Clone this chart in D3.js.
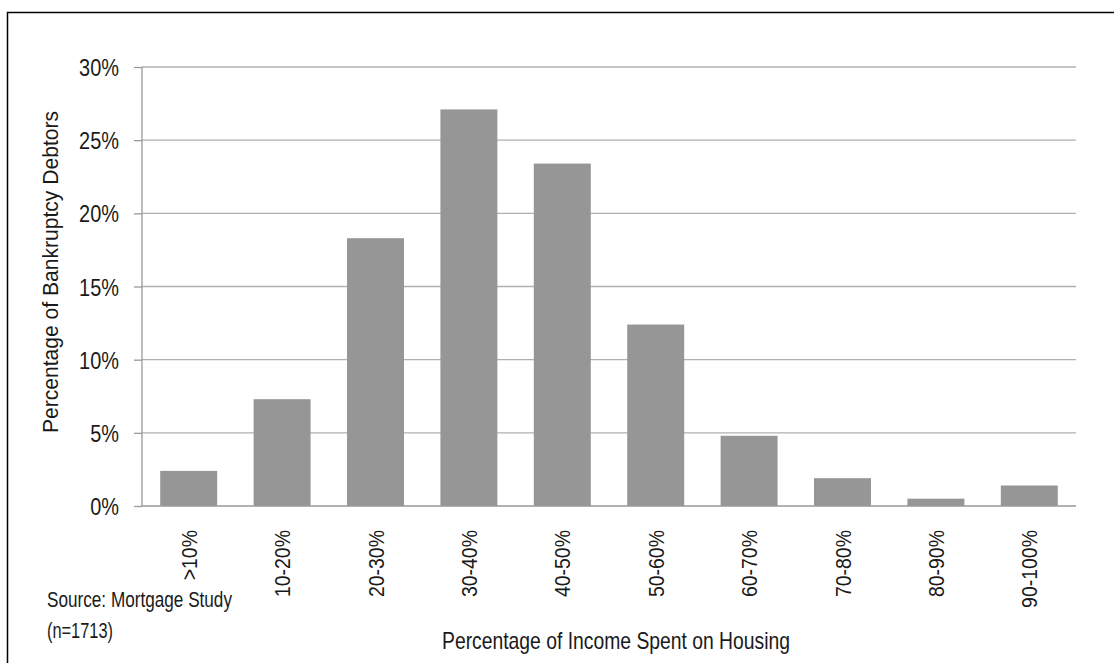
<!DOCTYPE html>
<html>
<head>
<meta charset="utf-8">
<script src="https://cdn.jsdelivr.net/npm/d3@7"></script>
<style>
body { margin: 0; background: #fff; }
text { font-family: "Liberation Sans", Arial, sans-serif; fill: #1a1a1a; }
</style>
</head>
<body>
<div id="chartdiv"></div>
<script>
var categories = [">10%", "10-20%", "20-30%", "30-40%", "40-50%", "50-60%", "60-70%", "70-80%", "80-90%", "90-100%"];
var values = [2.4, 7.3, 18.3, 27.1, 23.4, 12.4, 4.8, 1.9, 0.5, 1.4];
var yTicks = [0, 5, 10, 15, 20, 25, 30];

var W = 1114, H = 663;
var plotLeft = 142, plotRight = 1076, plotTop = 67, plotBottom = 506;

// squeeze text horizontally, the original uses a narrow face
function narrow(sel, k) {
    sel.each(function() {
        var len = this.getComputedTextLength();
        d3.select(this).attr("textLength", len * k).attr("lengthAdjust", "spacingAndGlyphs");
    });
}

function init() {
    var svg = d3.select("#chartdiv").append("svg").attr("width", W).attr("height", H);

    // frame, runs off the right and bottom edges
    svg.append("rect").attr("x", 7.5).attr("y", 12.5).attr("width", W + 20).attr("height", H + 20)
        .attr("fill", "none").attr("stroke", "#000").attr("stroke-width", 1.5);

    var x = d3.scaleBand().domain(categories).range([plotLeft, plotRight]).paddingInner(0.39).paddingOuter(0.195);
    var y = d3.scaleLinear().domain([0, 30]).range([plotBottom, plotTop]);

    // gridlines
    svg.append("g").selectAll("line").data(yTicks.filter(function(d){ return d > 0; })).enter().append("line")
        .attr("x1", plotLeft).attr("x2", plotRight)
        .attr("y1", function(d){ return y(d); }).attr("y2", function(d){ return y(d); })
        .attr("stroke", "#b0b0b0").attr("stroke-width", 1.3);

    // y axis
    var yAxis = d3.axisLeft(y).tickValues(yTicks).tickSize(8).tickPadding(15).tickFormat(function(d){ return d + "%"; });
    var gy = svg.append("g").attr("transform", "translate(" + plotLeft + ",0)").call(yAxis);
    gy.select(".domain").attr("stroke", "#999").attr("stroke-width", 1.3).attr("d", "M0," + plotTop + "V" + plotBottom);
    gy.selectAll(".tick line").attr("stroke", "#999").attr("stroke-width", 1.3);
    gy.selectAll(".tick text").attr("font-size", 24).attr("fill", "#1a1a1a").attr("dy", "0.36em")
        .style("font-family", "'Liberation Sans', Arial, sans-serif");
    narrow(gy.selectAll(".tick text"), 0.83);

    // bars
    svg.append("g").selectAll("rect").data(values).enter().append("rect")
        .attr("x", function(d, i){ return x(categories[i]); })
        .attr("width", x.bandwidth())
        .attr("y", function(d){ return y(d); })
        .attr("height", function(d){ return y(0) - y(d); })
        .attr("fill", "#969696");

    // baseline
    svg.append("line").attr("x1", plotLeft).attr("x2", plotRight).attr("y1", plotBottom).attr("y2", plotBottom)
        .attr("stroke", "#999").attr("stroke-width", 1.3);

    // category labels, rotated
    var cat = svg.append("g").selectAll("text").data(categories).enter().append("text")
        .attr("transform", function(d){ return "translate(" + (x(d) + x.bandwidth() / 2 + 8) + ",530) rotate(-90)"; })
        .attr("text-anchor", "end").attr("font-size", 22)
        .text(function(d){ return d; });
    narrow(cat, 0.885);

    // axis titles
    svg.append("text").attr("transform", "translate(58,272) rotate(-90)")
        .attr("text-anchor", "middle").attr("font-size", 22)
        .attr("textLength", 322).attr("lengthAdjust", "spacingAndGlyphs")
        .text("Percentage of Bankruptcy Debtors");
    svg.append("text").attr("x", 616).attr("y", 649).attr("text-anchor", "middle").attr("font-size", 24)
        .attr("textLength", 348).attr("lengthAdjust", "spacingAndGlyphs")
        .text("Percentage of Income Spent on Housing");

    // source note
    svg.append("text").attr("x", 47).attr("y", 607).attr("font-size", 22)
        .attr("textLength", 185).attr("lengthAdjust", "spacingAndGlyphs").text("Source: Mortgage Study");
    svg.append("text").attr("x", 47).attr("y", 638).attr("font-size", 22)
        .attr("textLength", 66).attr("lengthAdjust", "spacingAndGlyphs").text("(n=1713)");
}

document.addEventListener("DOMContentLoaded", init);
</script>
</body>
</html>
